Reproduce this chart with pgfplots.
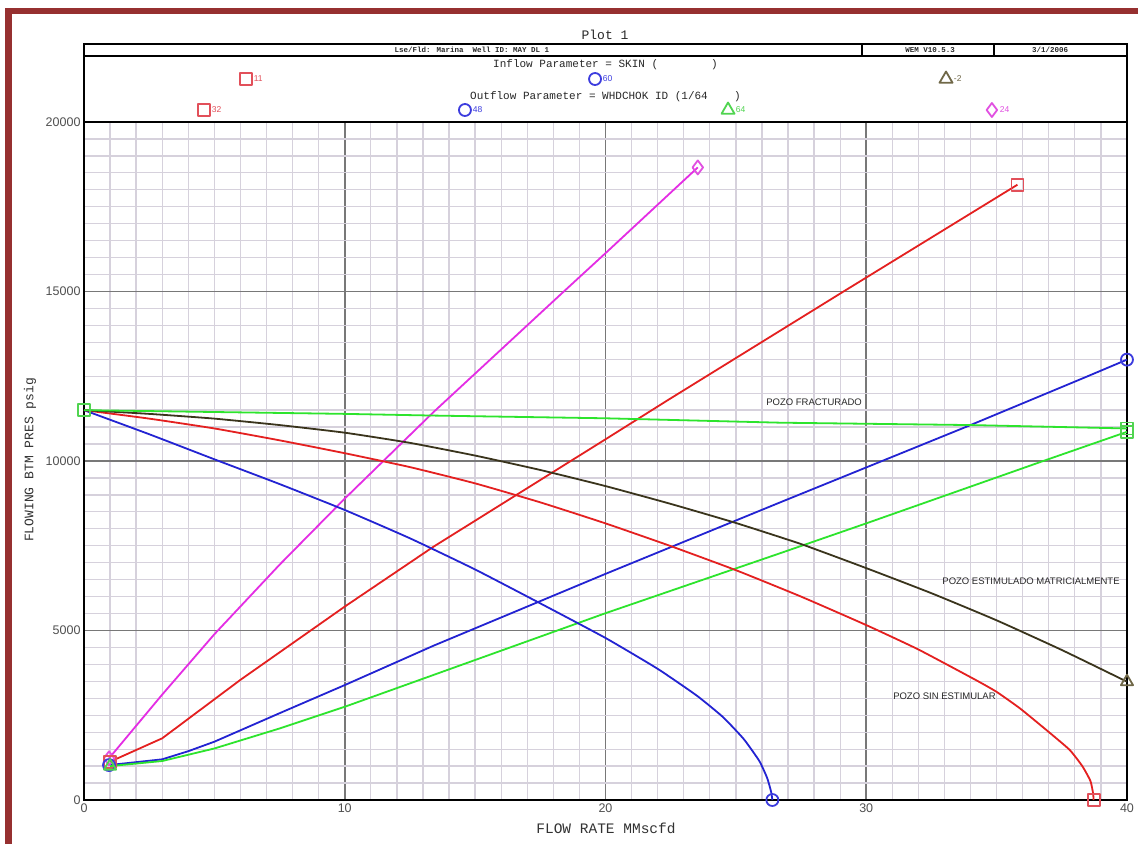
\documentclass[border=0pt]{standalone}
\usepackage{pgfplots}
\pgfplotsset{compat=1.18}
\usepackage{fontspec}
\setmainfont{Liberation Sans}
\newfontfamily\monofont{Liberation Mono}
\definecolor{framered}{RGB}{150,48,48}
\definecolor{cblue}{RGB}{35,35,210}
\definecolor{cred}{RGB}{228,32,32}
\definecolor{cmag}{RGB}{228,45,228}
\definecolor{cgreen}{RGB}{45,228,45}
\definecolor{cbrown}{RGB}{58,52,28}
\definecolor{mred}{RGB}{226,80,90}
\definecolor{mblue}{RGB}{60,60,222}
\definecolor{mgreen}{RGB}{80,212,80}
\definecolor{mbrown}{RGB}{112,104,72}
\definecolor{mmag}{RGB}{225,80,225}
\definecolor{tickgray}{RGB}{80,80,80}
\definecolor{majgrid}{RGB}{120,120,120}
\definecolor{mingrid}{RGB}{214,209,220}
\definecolor{txtgray}{RGB}{40,40,40}
\begin{document}
\begin{tikzpicture}[x=1pt,y=1pt]
\useasboundingbox (0,0) rectangle (1138,844);
\fill[white] (0,0) rectangle (1138,844);
\fill[framered] (5,0) rectangle (12,836);
\fill[framered] (5,830) rectangle (1138,836);
\begin{axis}[
  at={(84pt,44pt)}, anchor=south west,
  scale only axis, width=1043pt, height=678pt,
  xmin=0, xmax=40, ymin=0, ymax=20000,
  xtick={0,10,20,30,40}, ytick={0,5000,10000,15000,20000},
  minor x tick num=9, minor y tick num=9,
  grid=both,
  major grid style={draw=majgrid, line width=1.6pt},
  minor grid style={draw=mingrid, line width=1.3pt},
  tick style={draw=none},
  axis line style={line width=2.5pt, black},
  clip=false,
  scaled ticks=false,
  /pgf/number format/assume math mode=true,
  /pgf/number format/set thousands separator={},
  ticklabel style={font=\fontsize{12.5}{14}\selectfont, text=tickgray},
  every axis plot/.append style={line width=1.8pt, line join=round},
  mark options={solid, fill=none, line width=1pt},
]
% Outflow (TPR) curves
\addplot[cmag, mark=diamond, mark indices={1,9}, mark size=7pt, mark options={draw=mmag}] coordinates {
(0.96,1230) (3,3110) (5,4890) (7.5,6940) (10,8890) (13.4,11440) (18.43,15020) (20,16130) (23.54,18660)};
\addplot[cred, mark=square, mark indices={1,9}, mark size=6pt, mark options={draw=mred}] coordinates {
(1,1130) (3,1820) (6,3545) (10,5705) (13.4,7470) (20,10640) (22.4,11800) (29.13,15000) (35.8,18150)};
\addplot[cblue, mark=o, mark indices={1,13}, mark size=6pt, mark options={draw=mblue}] coordinates {
(0.96,1030) (3,1200) (4,1440) (5,1720) (7.5,2560) (10,3390) (13.4,4550) (20,6670) (26.7,8780) (30,9810) (34,11060) (38.4,12470) (40,12990)};
\addplot[cgreen, mark=triangle, mark indices={1}, mark size=7pt, mark options={draw=mgreen}] coordinates {
(1,1000) (3,1150) (5,1520) (7.5,2110) (10,2750) (13.3,3660) (20,5510) (26.7,7280) (30,8160) (36.9,10030) (40,10860)};
\addplot[only marks, mark=square, mark size=6pt, mark options={draw=mgreen}] coordinates {(40,10860)};
% Inflow (IPR) curves
\addplot[cblue, smooth, tension=0.3, mark=o, mark indices={17}, mark size=6pt, mark options={draw=mblue}] coordinates {
(0,11500) (2.5,10790) (5,10050) (7.5,9320) (10,8555) (12.5,7720) (15,6800) (17.5,5800) (20,4780) (22,3870) (23.5,3080) (24.5,2450) (25.3,1800) (25.9,1150) (26.2,650) (26.35,250) (26.4,0)};
\addplot[cred, smooth, tension=0.3, mark=square, mark indices={23}, mark size=6pt, mark options={draw=mred}] coordinates {
(0,11500) (2.5,11250) (5,10960) (7.5,10610) (10,10230) (12.5,9820) (15,9340) (17.5,8780) (20,8160) (22.5,7490) (25,6780) (27.5,6000) (30,5160) (32,4440) (34.2,3540) (35,3190) (35.9,2700) (36.9,2070) (37.8,1480) (38.3,985) (38.6,560) (38.7,200) (38.72,0)};
\addplot[cbrown, smooth, tension=0.3, mark=triangle, mark indices={17}, mark size=7pt, mark options={draw=mbrown}] coordinates {
(0,11500) (2.5,11390) (5,11250) (7.5,11060) (10,10835) (12.5,10535) (15,10160) (17.5,9735) (20,9260) (22.5,8735) (25,8172) (27.5,7550) (30,6840) (32.5,6100) (35,5300) (37.5,4425) (40,3490)};
\addplot[cgreen, mark=square, mark indices={1,7}, mark size=6pt, mark options={draw=mgreen}] coordinates {
(0,11500) (10,11390) (13.4,11340) (20,11260) (26.7,11130) (34,11060) (40,10960)};
% header legend markers
\addplot[only marks, mark=square, mark size=6pt, mark options={draw=mred},
  nodes near coords, point meta=explicit symbolic,
  every node near coord/.append style={anchor=west, xshift=7pt, inner sep=0pt, font=\fontsize{8.5}{9}\selectfont, text=mred}]
  coordinates {(6.21,21268)[11] (4.60,20354)[32]};
\addplot[only marks, mark=o, mark size=6pt, mark options={draw=mblue},
  nodes near coords, point meta=explicit symbolic,
  every node near coord/.append style={anchor=west, xshift=7pt, inner sep=0pt, font=\fontsize{8.5}{9}\selectfont, text=mblue}]
  coordinates {(19.60,21268)[60] (14.61,20354)[48]};
\addplot[only marks, mark=triangle, mark size=7.5pt, mark options={draw=mbrown},
  nodes near coords, point meta=explicit symbolic,
  every node near coord/.append style={anchor=west, xshift=7pt, inner sep=0pt, font=\fontsize{8.5}{9}\selectfont, text=mbrown}]
  coordinates {(33.06,21268)[-2]};
\addplot[only marks, mark=triangle, mark size=7.5pt, mark options={draw=mgreen},
  nodes near coords, point meta=explicit symbolic,
  every node near coord/.append style={anchor=west, xshift=7pt, inner sep=0pt, font=\fontsize{8.5}{9}\selectfont, text=mgreen}]
  coordinates {(24.70,20354)[64]};
\addplot[only marks, mark=diamond, mark size=7pt, mark options={draw=mmag},
  nodes near coords, point meta=explicit symbolic,
  every node near coord/.append style={anchor=west, xshift=7pt, inner sep=0pt, font=\fontsize{8.5}{9}\selectfont, text=mmag}]
  coordinates {(34.82,20354)[24]};
% annotations
\node[font=\fontsize{9.5}{11}\selectfont, text=txtgray] at (axis cs:28.0,11740) {POZO FRACTURADO};
\node[font=\fontsize{9.5}{11}\selectfont, text=txtgray] at (axis cs:36.32,6445) {POZO ESTIMULADO MATRICIALMENTE};
\node[font=\fontsize{9.5}{11}\selectfont, text=txtgray] at (axis cs:33.0,3068) {POZO SIN ESTIMULAR};
\end{axis}
% header frame
\draw[line width=2.5pt] (84,722) -- (84,800) -- (1127,800) -- (1127,722);
\draw[line width=2pt] (84,788) -- (1127,788);
\draw[line width=2.5pt] (862,788) -- (862,800);
\draw[line width=2.5pt] (994,788) -- (994,800);
\node[font=\monofont\fontsize{13}{14}\selectfont, text=txtgray] at (605,809) {Plot 1};
\node[font=\monofont\bfseries\fontsize{7.5}{8}\selectfont, text=txtgray] at (472,794) {Lse/Fld: Marina\ \ Well ID: MAY DL 1};
\node[font=\monofont\bfseries\fontsize{7.5}{8}\selectfont, text=txtgray] at (930,794) {WEM V10.5.3};
\node[font=\monofont\bfseries\fontsize{7.5}{8}\selectfont, text=txtgray] at (1050,794) {3/1/2006};
\node[anchor=west, inner sep=0pt, font=\monofont\fontsize{11}{12}\selectfont, text=txtgray] at (493,779) {Inflow Parameter = SKIN (\ \ \ \ \ \ \ \ )};
\node[anchor=west, inner sep=0pt, font=\monofont\fontsize{11}{12}\selectfont, text=txtgray] at (470,747) {Outflow Parameter = WHDCHOK ID (1/64\ \ \ \ )};
% axis labels
\node[font=\monofont\fontsize{14.5}{16}\selectfont, text={rgb,255:red,50;green,50;blue,50}] at (606,16) {FLOW RATE MMscfd};
\node[rotate=90, font=\monofont\fontsize{13}{15}\selectfont, text={rgb,255:red,50;green,50;blue,50}] at (30,384) {FLOWING BTM PRES psig};
\end{tikzpicture}
\end{document}
